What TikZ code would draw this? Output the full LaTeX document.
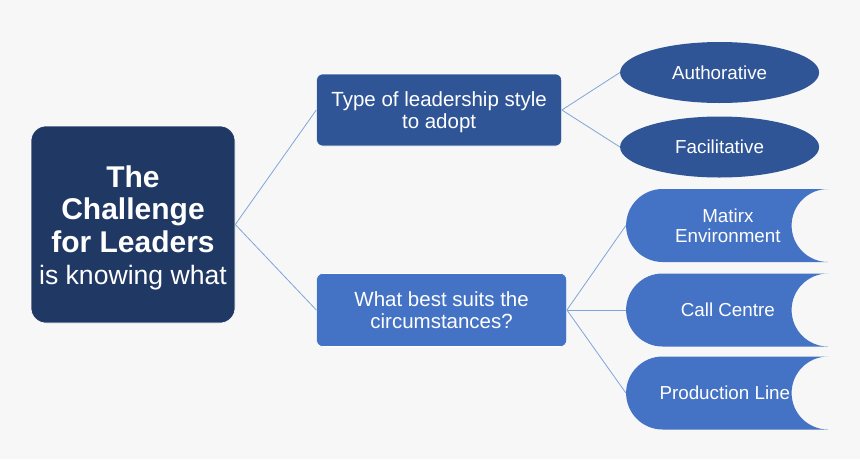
\documentclass[tikz,border=0pt]{standalone}
\usepackage{fontspec}
\setmainfont{Liberation Sans}
\usetikzlibrary{shapes, positioning}
\usepackage{xcolor}
\definecolor{navy}{HTML}{203864}
\definecolor{midblue}{HTML}{2F5597}
\definecolor{lightblue}{HTML}{4472C4}
\definecolor{linkblue}{HTML}{7EA6D8}
\definecolor{paper}{HTML}{F7F7F7}

\begin{document}
\begin{tikzpicture}[x=1pt, y=-1pt,
    box/.style={draw=white, line width=0.6pt, rounded corners=6pt, text=white, align=center,
      inner sep=0pt, font=\fontsize{20.5}{21.5}\selectfont},
    oval/.style={ellipse, fill=midblue, text=white, minimum width=199pt, minimum height=61pt,
      inner sep=0pt, font=\fontsize{18.8}{20}\selectfont},
    tab/.style={rounded rectangle, rounded rectangle right arc=concave, fill=lightblue,
      minimum width=202pt, minimum height=73pt, inner sep=0pt},
    tabtext/.style={xshift=19pt, text=white, align=center, inner sep=0pt,
      font=\fontsize{18.8}{20}\selectfont},
    link/.style={draw=linkblue, line width=0.8pt}]
  \fill[paper] (0,0) rectangle (860,459);
  \useasboundingbox (0,0) rectangle (860,459);

  \node[box, fill=navy, rounded corners=15pt, minimum width=204pt, minimum height=197pt,
    font=\fontsize{30}{32.5}\selectfont] (root) at (133,224.5)
    {\rule{0pt}{28.5pt}\textbf{The}\\\textbf{Challenge}\\\textbf{for Leaders}\\{\fontsize{26.6}{32}\selectfont is knowing what}};

  \node[box, fill=midblue, minimum width=245pt, minimum height=72pt, right=81pt of root, yshift=114.5pt] (style)
    {\rule{0pt}{19pt}Type of leadership style\\to adopt};
  \node[box, fill=lightblue, minimum width=250pt, minimum height=73pt, right=81pt of root, yshift=-85.5pt] (suits)
    {What best suits the\\circumstances?};

  \node[oval, right=58pt of style, yshift=37.5pt] (auth) {Authorative};
  \node[oval, right=58pt of style, yshift=-37pt] (facil) {Facilitative};

  \node[tab, right=59pt of suits, yshift=84.5pt, label={[tabtext]center:{Matirx\\Environment}}] (matrix) {};
  \node[tab, right=59pt of suits, label={[tabtext]center:Call Centre}] (call) {};
  \node[tab, right=59pt of suits, yshift=-83pt, label={[tabtext, xshift=-3pt]center:Production Line}] (prod) {};

  \draw[link] (root.east) -- (style.west);
  \draw[link] (root.east) -- (suits.west);
  \draw[link] (style.east) -- (auth.west);
  \draw[link] (style.east) -- (facil.west);
  \draw[link] (suits.east) -- (matrix.west);
  \draw[link] (suits.east) -- (call.west);
  \draw[link] (suits.east) -- (prod.west);
\end{tikzpicture}
\end{document}
